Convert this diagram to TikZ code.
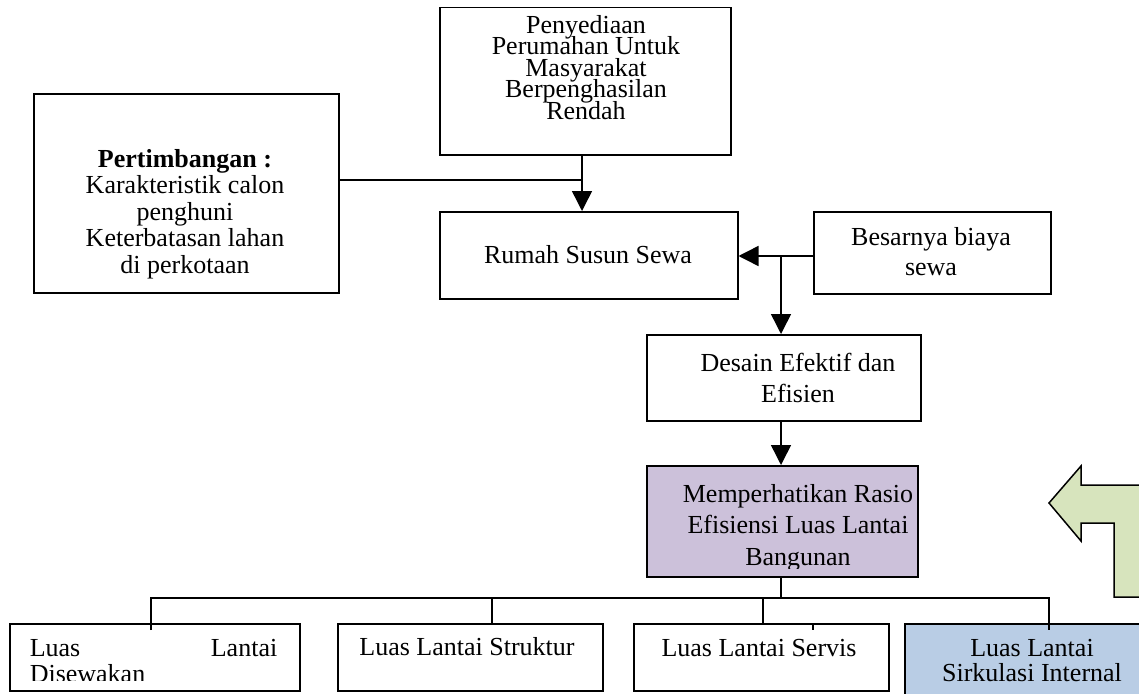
\documentclass[tikz,border=0pt]{standalone}
\usepackage{fontspec}
\setmainfont{Liberation Serif}
\usetikzlibrary{arrows.meta}
\definecolor{lav}{HTML}{CCC1DA}
\definecolor{lblue}{HTML}{B9CDE5}
\definecolor{lgreen}{HTML}{D7E4BD}
\newcommand{\tf}[2]{\fontsize{#1}{#2}\selectfont\lineskiplimit=-60pt\relax}
\begin{document}
\begin{tikzpicture}[x=1pt,y=-1pt, line width=1.5pt,
  box/.style={draw, line width=1.5pt, rectangle, inner sep=0pt, anchor=north west},
  txt/.style={inner sep=0pt, anchor=base, align=center},
  arr/.style={-{Triangle[length=20pt,width=20pt]}}]
\useasboundingbox (0,0) rectangle (1139,693);
\clip (0,0) rectangle (1139,693);

% boxes
\node[box, minimum width=305pt, minimum height=199pt] (pert) at (33,93) {};
\node[box, minimum width=291pt, minimum height=147pt] (penyediaan) at (439,7) {};
\node[box, minimum width=298pt, minimum height=87pt] (rumah) at (439,211) {};
\node[box, minimum width=237pt, minimum height=82pt] (besar) at (813,211) {};
\node[box, minimum width=274pt, minimum height=86pt] (desain) at (646,334) {};
\node[box, fill=lav, minimum width=271pt, minimum height=111pt] (rasio) at (646,465) {};
\node[box, minimum width=290pt, minimum height=67pt] (b1) at (9,623) {};
\node[box, minimum width=265pt, minimum height=67pt] (b2) at (337,623) {};
\node[box, minimum width=255pt, minimum height=67pt] (b3) at (633,623) {};
\node[box, fill=lblue, minimum width=266pt, minimum height=90pt] (b4) at (904,623) {};

% bent arrow
\draw[fill=lgreen] (1049,503) -- (1081,466) -- (1081,485) -- (1170,485) -- (1170,597)
  -- (1114,597) -- (1114,523) -- (1081,523) -- (1081,541) -- cycle;

% texts (anchor=base sits on the last line's baseline)
\node[txt, font=\tf{26}{21.5}] (t1) at (586,119)
  {Penyediaan\\Perumahan Untuk\\Masyarakat\\Berpenghasilan\\Rendah};
\begin{scope}
\clip (33,93) rectangle (338,278);
\node[txt, font=\tf{26}{26.5}] (t2) at (185,273)
  {\textbf{Pertimbangan :}\\Karakteristik calon\\penghuni\\Keterbatasan lahan\\di perkotaan};
\end{scope}
\node[txt, font=\tf{26}{30}] (t3) at (588,263) {Rumah Susun Sewa};
\node[txt, font=\tf{26}{30}] (t4) at (931,275) {Besarnya biaya\\sewa};
\node[txt, font=\tf{26}{31}] (t5) at (798,402) {Desain Efektif dan\\Efisien};
\begin{scope}
\clip (646,465) rectangle (917,568);
\node[txt, font=\tf{26}{31.5}] (t6) at (798,565)
  {Memperhatikan Rasio\\Efisiensi Luas Lantai\\Bangunan};
\end{scope}
\node[txt, anchor=base west, font=\tf{26}{26}] (t7a) at (29,656) {Luas};
\node[txt, anchor=base east, font=\tf{26}{26}] (t7b) at (278,656) {Lantai};
\begin{scope}
\clip (9,623) rectangle (299,680);
\node[txt, anchor=base west, font=\tf{26}{26}] (t7c) at (29,682) {Disewakan};
\end{scope}
\node[txt, font=\tf{26}{26}] (t8) at (467,655) {Luas Lantai Struktur};
\node[txt, font=\tf{26}{26}] (t9) at (759,656) {Luas Lantai Servis};
\node[txt, font=\tf{26}{25}] (t10) at (1032,681) {Luas Lantai\\Sirkulasi Internal};

% connectors
\coordinate (jA) at (582,180);
\draw[arr] (penyediaan.south -| jA) -- (rumah.north -| jA);
\draw (pert.east |- jA) -- (jA);
\coordinate (jB) at (781,256);
\draw[arr] (besar.west |- jB) -- (rumah.east |- jB);
\draw[arr] (jB) -- (desain.north -| jB);
\draw[arr] (desain.south -| jB) -- (rasio.north -| jB);
\coordinate (bus) at (781,598);
\coordinate (busL) at (151,598);
\coordinate (busR) at (1049,598);
\coordinate (bus2) at (492,598);
\coordinate (bus3) at (763,598);
\coordinate (tick) at (813,623);
\draw (rasio.south -| bus) -- (bus);
\draw ([yshift=-7pt]b1.north -| busL) -- (busL) -- (busR) -- ([yshift=-7pt]b4.north -| busR);
\draw (bus2) -- (b2.north -| bus2);
\draw (bus3) -- (b3.north -| bus3);
\draw (b3.north -| tick) -- ++(0,7);
\end{tikzpicture}
\end{document}
